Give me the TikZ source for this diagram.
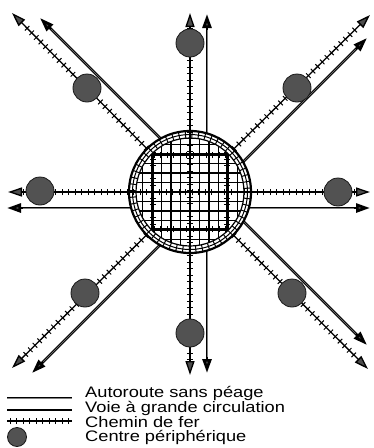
\documentclass[tikz,border=0pt]{standalone}
\usepackage{fontspec}
\setmainfont{Liberation Sans}
\newfontfamily\legfont[FakeStretch=1.2]{Liberation Sans}
\usetikzlibrary{arrows.meta,decorations.markings,calc}
\tikzset{
  headA/.tip={Triangle[length=14pt,width=9pt,fill=black!70]},
  motor/.style={line width=2.7pt,draw=black,{headA}-{headA}},
  motorcore/.style={line width=0.5pt,draw=black!50},
  railline/.style={line width=1.3pt,draw=black},
  gridline/.style={line width=1.2pt,draw=black},
  railticks/.style={postaction={decorate},decoration={markings,
     mark=between positions 0 and 1 step 6.5pt with {\draw[line width=1pt] (0,-3.2pt) -- (0,3.2pt);}}},
  city/.style={circle,fill=black!68,draw=black!90,line width=0.8pt,minimum size=28pt,inner sep=0pt},
  legtext/.style={anchor=base west,inner sep=0pt,font=\legfont\fontsize{15.2}{15.2}\selectfont},
}
\begin{document}
\begin{tikzpicture}[x=1pt,y=-1pt]
\useasboundingbox (0,0) rectangle (374,448);
% centre
\coordinate (c) at (190,192);
% rail tips
\coordinate (rN) at (190,13);
\coordinate (rS) at (190,375);
\coordinate (rW) at (8,192);
\coordinate (rE) at (370,192);
\coordinate (rNW) at (12,13);
\coordinate (rSE) at (368,369);
\coordinate (rNE) at (370,15);
\coordinate (rSW) at (12,368);
% motorway ends
\coordinate (mN) at (207,14);
\coordinate (mS) at (207,373);
\coordinate (mW) at (7,208);
\coordinate (mE) at (370,208);
\coordinate (mNW) at (40,18);
\coordinate (mSE) at (367,345);
\coordinate (mNE) at (367,38);
\coordinate (mSW) at (32,373);
% motorways
\foreach \a/\b in {mN/mS,mW/mE,mNW/mSE,mNE/mSW}{
  \draw[motor] (\a) -- (\b);
  \draw[motorcore] ($(\a)!16pt!(\b)$) -- ($(\b)!16pt!(\a)$);
}
% city disc
\fill[white] (c) circle (61);
% grid
\begin{scope}
  \clip (c) circle (54);
  \foreach \i in {-6,...,6}{
    \draw[gridline] (190+\i*9.5,120) -- (190+\i*9.5,265);
    \draw[gridline] (115,192+\i*9.5) -- (265,192+\i*9.5);
  }
  \draw[railline,railticks] (153,120) -- (153,265);
  \draw[railline,railticks] (227,120) -- (227,265);
  \draw[railline,railticks] (115,155) -- (265,155);
  \draw[railline,railticks] (115,229) -- (265,229);
\end{scope}
% straight rails
\draw[railline,{headA}-{headA}] (rN) -- (rS);
\draw[railline,{headA}-{headA}] (rW) -- (rE);
\path[railticks] ($(rN)!15pt!(rS)$) -- ($(rS)!15pt!(rN)$);
\path[railticks] ($(rW)!15pt!(rE)$) -- ($(rE)!15pt!(rW)$);
% diagonal rails
\foreach \t in {rNW,rSE,rNE,rSW}{
  \draw[railline,-{headA}] ($(c)!60pt!(\t)$) -- (\t);
  \path[railticks] ($(c)!62pt!(\t)$) -- ($(\t)!15pt!(c)$);
}
% rings
\draw[line width=1pt] (c) circle (57.5);
\path[railticks] (c) circle (57.5);
\draw[line width=1.2pt] (c) circle (54);
\draw[line width=2.2pt] (c) circle (61);
% peripheral centres
\node[city] (dN) at (190,43) {};
\node[city] (dS) at (190,333) {};
\node[city] (dW) at (40,191) {};
\node[city] (dE) at (338,192) {};
\node[city] (dNW) at (87,88) {};
\node[city] (dSE) at (292,293) {};
\node[city] (dNE) at (297,88) {};
\node[city] (dSW) at (85,293) {};
% legend
\coordinate (l1a) at (7,398); \coordinate (l1b) at (72,398);
\coordinate (l2a) at (7,410); \coordinate (l2b) at (72,410);
\coordinate (l3a) at (7,421); \coordinate (l3b) at (72,421);
\draw[line width=2.8pt] (l1a) -- (l1b);
\draw[motorcore] (l1a) -- (l1b);
\draw[line width=1.3pt] (l2a) -- (l2b);
\draw[railline] (l3a) -- (l3b);
\path[railticks] ($(l3a)+(3,0)$) -- (l3b);
\node[city,minimum size=19pt] (l4) at (17,437) {};
\node[legtext] (t1) at (85,397.5) {Autoroute sans péage};
\node[legtext] (t2) at (85,412.2) {Voie à grande circulation};
\node[legtext] (t3) at (85,427) {Chemin de fer};
\node[legtext] (t4) at (85,441.8) {Centre périphérique};
\end{tikzpicture}
\end{document}
